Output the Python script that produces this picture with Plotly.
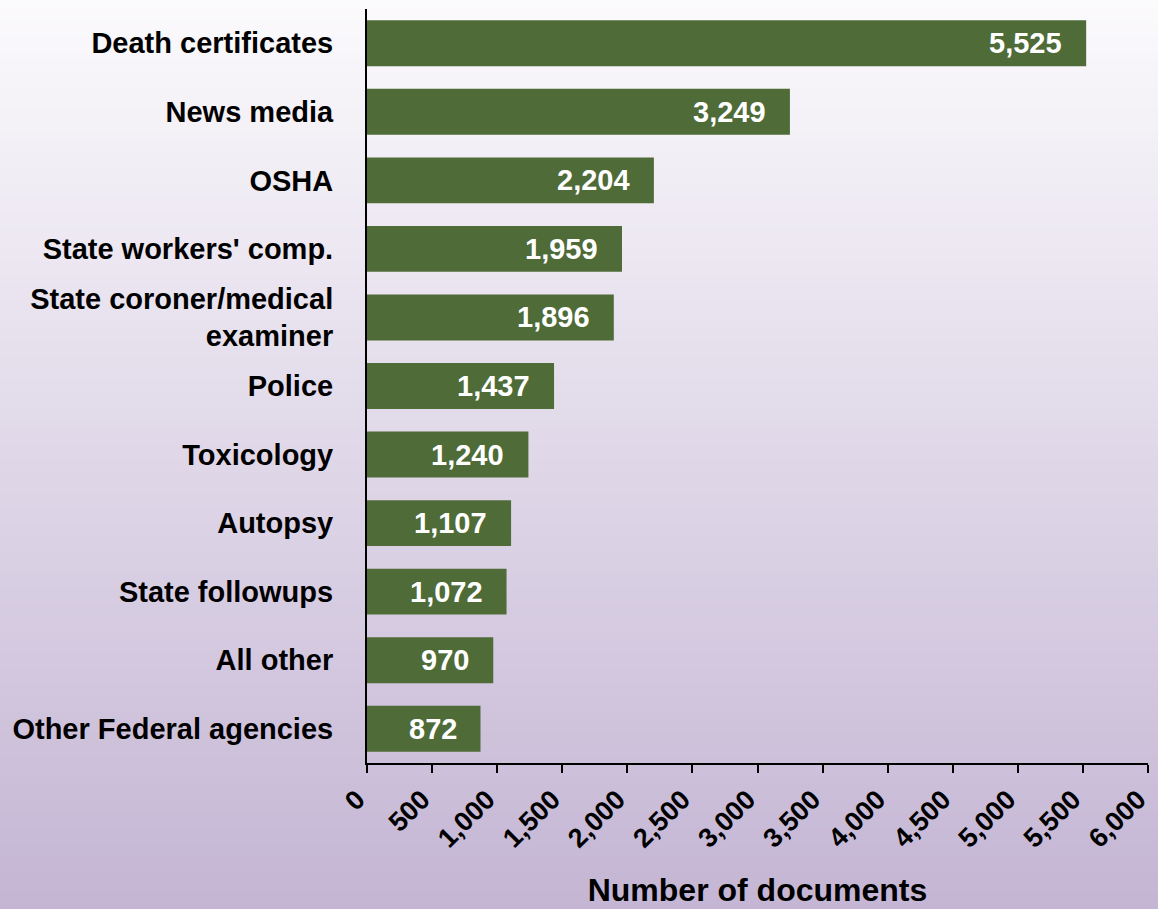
import plotly.graph_objects as go

categories = ["Death certificates", "News media", "OSHA", "State workers' comp.",
              "State coroner/medical<br>examiner", "Police", "Toxicology", "Autopsy",
              "State followups", "All other", "Other Federal agencies"]
values = [5525, 3249, 2204, 1959, 1896, 1437, 1240, 1107, 1072, 970, 872]
tick_vals = [0, 500, 1000, 1500, 2000, 2500, 3000, 3500, 4000, 4500, 5000, 5500, 6000]
tick_text = ["{:,}".format(v) for v in tick_vals]

FONT = "Liberation Sans, Arial, sans-serif"
BAR = "#4f6b38"

fig = go.Figure(go.Bar(
    x=values, y=categories, orientation="h",
    marker=dict(color=BAR, line=dict(width=0)),
    width=0.67,
    hoverinfo="x+y",
))

annotations = [
    dict(x=v, y=c, xref="x", yref="y", text="<b>{:,}</b>".format(v),
         showarrow=False, xanchor="right", yanchor="middle", xshift=-22,
         font=dict(family=FONT, size=29, color="white"))
    for c, v in zip(categories, values)
]

# vertical background gradient (white -> lavender)
top = (252, 251, 253)
bot = (195, 180, 211)
n = 130
y_top, y_bot = 1.03, -0.22
step = (y_top - y_bot) / n
shapes = []
for i in range(n):
    t = i / (n - 1)
    col = tuple(round(top[k] + (bot[k] - top[k]) * t) for k in range(3))
    shapes.append(dict(type="rect", xref="paper", yref="paper",
                       x0=-1, x1=2,
                       y0=y_top - (i + 1) * step - 0.002, y1=y_top - i * step,
                       fillcolor="rgb(%d,%d,%d)" % col, line=dict(width=0),
                       layer="below"))

fig.update_layout(
    width=1158, height=909,
    margin=dict(l=367, r=10, t=9, b=146),
    paper_bgcolor="rgb(196,181,212)",
    plot_bgcolor="rgba(0,0,0,0)",
    showlegend=False,
    bargap=0.33,
    shapes=shapes,
    annotations=annotations,
    font=dict(family=FONT, color="black"),
    xaxis=dict(
        range=[0, 6000], tickvals=tick_vals, ticktext=["<b>%s</b>" % s for s in tick_text],
        tickangle=-45, ticks="outside", ticklen=8, tickwidth=2, tickcolor="black",
        showline=True, linecolor="black", linewidth=2, showgrid=False, zeroline=False,
        tickfont=dict(family=FONT, size=27, color="black"),
        ticklabeloverflow="allow", automargin=False, ticklabelshift=-10,
        title=dict(text="<b>Number of documents</b>", font=dict(family=FONT, size=32, color="black"),
                   standoff=26),
        fixedrange=True,
    ),
    yaxis=dict(
        autorange="reversed", showline=True, linecolor="black", linewidth=2,
        ticks="", showgrid=False, zeroline=False, automargin=False,
        tickfont=dict(family=FONT, size=29, color="black"),
        ticklabelstandoff=26,
        tickvals=categories, ticktext=["<b>%s</b>" % c for c in categories],
        fixedrange=True,
    ),
)

fig.write_html("out.html", config={"displayModeBar": False},
               post_script="document.body.style.margin='0';document.body.style.overflow='hidden';")
